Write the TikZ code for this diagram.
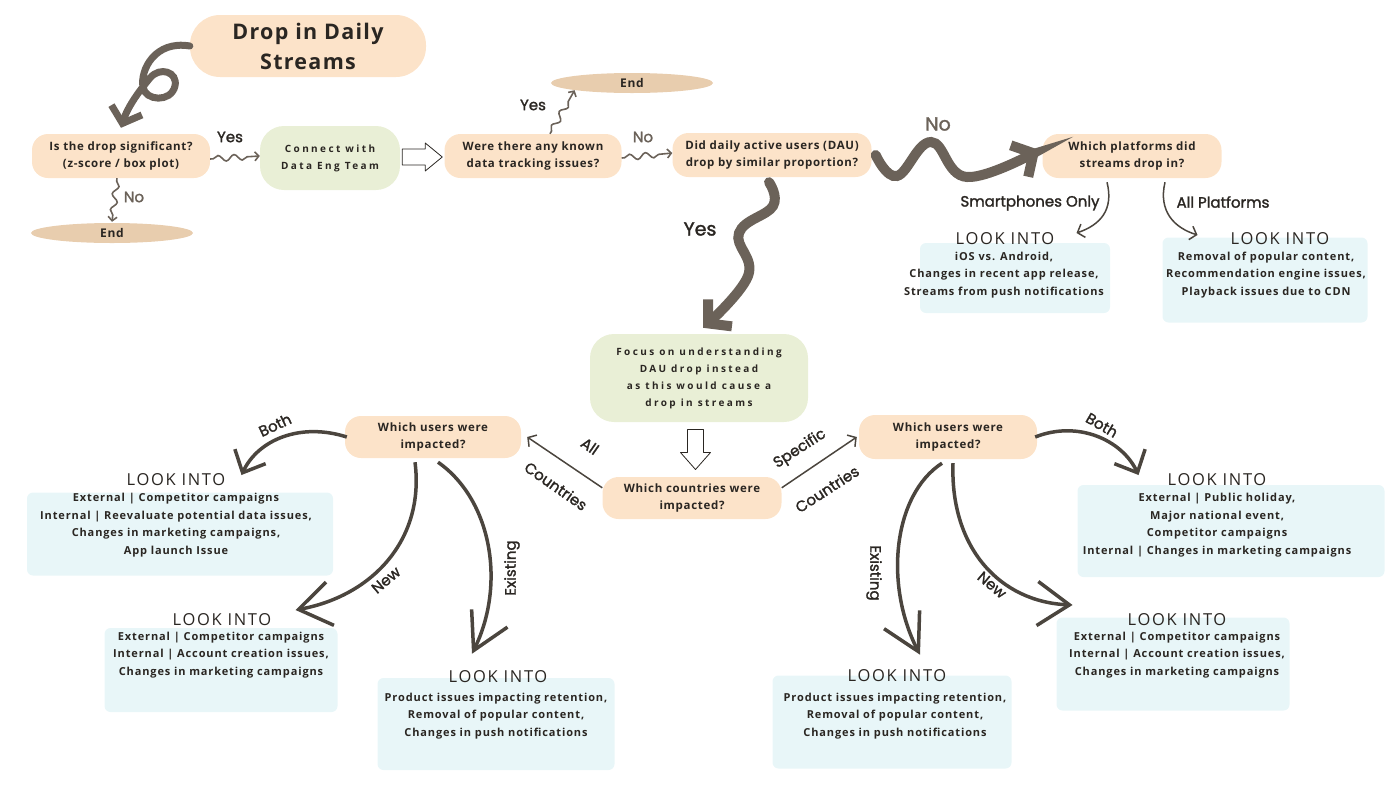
\documentclass[tikz,border=0pt]{standalone}
\usepackage{fontspec}
\setmainfont{Open Sans}
\newfontfamily\qfont[LetterSpace=6]{Open Sans}
\newfontfamily\bodyfont[LetterSpace=8]{Open Sans}
\newfontfamily\lookfont[LetterSpace=10]{Open Sans}
\newfontfamily\spacedfont[LetterSpace=24]{Open Sans}
\newfontfamily\handfont[FakeBold=1.6]{Poppins}
\usetikzlibrary{positioning, arrows.meta, shapes.geometric, decorations.pathmorphing, calc}

\definecolor{peach}{HTML}{FCE3C9}
\definecolor{sage}{HTML}{E9EFD6}
\definecolor{mist}{HTML}{E8F6F8}
\definecolor{bark}{HTML}{6B6259}
\definecolor{ink}{HTML}{2A2622}
\definecolor{sand}{HTML}{E8CDAE}

\tikzset{
  question/.style={fill=peach, rounded corners=16pt, minimum width=178pt,
    minimum height=44pt, align=center, text=ink,
    font=\qfont\bfseries\fontsize{11.5}{16.5}\selectfont},
  greenblob/.style={fill=sage, rounded corners=24pt, align=center, text=ink,
    font=\spacedfont\bfseries\fontsize{10}{17}\selectfont},
  endblob/.style={ellipse, fill=sand, minimum width=162pt, minimum height=20pt,
    inner sep=0pt, text=ink, font=\qfont\bfseries\fontsize{12}{12}\selectfont},
  lookbg/.style={fill=mist, rounded corners=6pt},
  looktitle/.style={text=ink, inner sep=0pt,
    font=\lookfont\fontsize{16.5}{17}\selectfont},
  lookbody/.style={align=center, text=ink, inner sep=0pt,
    font=\bodyfont\bfseries\fontsize{11}{17.5}\selectfont},
  hand/.style={text=ink, inner sep=0pt, font=\handfont\fontsize{15}{16}\selectfont},
  bighand/.style={hand, font=\handfont\fontsize{19}{20}\selectfont},
  hollow/.style={draw=ink, thick, fill=white, line join=round},
  bigarrow/.style={draw=bark, line width=10pt, line cap=round,
    -{Straight Barb[length=16pt, width=36pt]}},
  sixarrow/.style={draw=bark, line width=7pt, line cap=round,
    -{Straight Barb[length=14pt, width=32pt]}},
  curvearrow/.style={draw=bark!70!black, line width=3.5pt},
  thinarrow/.style={draw=bark!70!black, line width=1.5pt,
    -{Straight Barb[length=6pt, width=14pt]}},
  squiggle/.style={draw=bark, line width=1.6pt,
    -{Straight Barb[length=4pt, width=9pt]}, decorate,
    decoration={snake, amplitude=3pt, segment length=16pt,
      pre length=3pt, post length=6pt}}
}

\begin{document}
\begin{tikzpicture}[x=1pt, y=-1pt]
  \useasboundingbox (0,0) rectangle (1400,788);

  % washes behind the LOOK INTO notes
  \node[lookbg, minimum width=190pt, minimum height=70pt] (g1) at (1015,278) {};
  \node[lookbg, minimum width=205pt, minimum height=85pt] (g2) at (1265,280) {};
  \node[lookbg, minimum width=306pt, minimum height=83pt] (g3) at (180,534) {};
  \node[lookbg, minimum width=233pt, minimum height=84pt] (g4) at (221,670) {};
  \node[lookbg, minimum width=237pt, minimum height=92pt] (g5) at (496,724) {};
  \node[lookbg, minimum width=307pt, minimum height=92pt] (g6) at (1231,531) {};
  \node[lookbg, minimum width=233pt, minimum height=93pt] (g7) at (1173,664) {};
  \node[lookbg, minimum width=239pt, minimum height=93pt] (g8) at (892,722) {};

  % top row
  \node[fill=peach, rounded corners=30pt, minimum width=236pt,
    minimum height=62pt, align=center, text=ink,
    font=\qfont\bfseries\fontsize{21.5}{30}\selectfont] (title) at (308,46)
    {Drop in Daily\\Streams};

  \node[question] (q1) at (121,156) {Is the drop significant?\\(z-score / box plot)};
  \node[greenblob, minimum width=140pt, minimum height=64pt] (conn) at (330,158)
    {Connect with\\Data Eng Team};
  \node[question, minimum width=177pt] (q2) at (533,156)
    {Were there any known\\data tracking issues?};
  \node[question, minimum width=199pt] (q3) at (772,155)
    {Did daily active users (DAU)\\drop by similar proportion?};
  \node[question, minimum width=179pt] (q4) at (1132,156)
    {Which platforms did\\streams drop in?};

  \node[endblob] (end1) at (112,233) {End};
  \node[endblob] (end2) at (632,83) {End};

  % middle
  \node[greenblob, minimum width=218pt, minimum height=88pt] (focus) at (699,378)
    {Focus on understanding\\DAU drop instead\\as this would cause a\\drop in streams};
  \node[question, minimum width=179pt, minimum height=42pt] (q5) at (692,498)
    {Which countries were\\impacted?};
  \node[question, minimum width=176pt, minimum height=42pt] (q6l) at (433,437)
    {Which users were\\impacted?};
  \node[question, minimum width=178pt, minimum height=44pt] (q6r) at (948,437)
    {Which users were\\impacted?};

  % LOOK INTO notes
  \node[looktitle] (t1) at (1005,239) {LOOK INTO};
  \node[lookbody] (b1) at (1004,275)
    {iOS vs. Android,\\Changes in recent app release,\\Streams from push notifications};
  \node[looktitle] (t2) at (1280,239) {LOOK INTO};
  \node[lookbody] (b2) at (1266,275)
    {Removal of popular content,\\Recommendation engine issues,\\Playback issues due to CDN};
  \node[looktitle] (t3) at (176,480) {LOOK INTO};
  \node[lookbody] (b3) at (176,525)
    {External | Competitor campaigns\\Internal | Reevaluate potential data issues,\\Changes in marketing campaigns,\\App launch Issue};
  \node[looktitle] (t4) at (222,620) {LOOK INTO};
  \node[lookbody] (b4) at (221,655)
    {External | Competitor campaigns\\Internal | Account creation issues,\\Changes in marketing campaigns};
  \node[looktitle] (t5) at (498,677) {LOOK INTO};
  \node[lookbody] (b5) at (496,716)
    {Product issues impacting retention,\\Removal of popular content,\\Changes in push notifications};
  \node[looktitle] (t6) at (1217,480) {LOOK INTO};
  \node[lookbody] (b6) at (1217,525)
    {External | Public holiday,\\Major national event,\\Competitor campaigns\\Internal | Changes in marketing campaigns};
  \node[looktitle] (t7) at (1177,620) {LOOK INTO};
  \node[lookbody] (b7) at (1177,655)
    {External | Competitor campaigns\\Internal | Account creation issues,\\Changes in marketing campaigns};
  \node[looktitle] (t8) at (897,676) {LOOK INTO};
  \node[lookbody] (b8) at (895,716)
    {Product issues impacting retention,\\Removal of popular content,\\Changes in push notifications};

  % hollow block arrows
  \coordinate (ha1) at ($(conn.east)!0.5!(q2.west)$);
  \draw[hollow] (ha1) ++(-20,-8) -- ++(23,0) -- ++(0,-6) -- ++(17,14)
    -- ++(-17,14) -- ++(0,-6) -- ++(-23,0) -- cycle;
  \coordinate (ha2) at ($(focus.south)!0.5!(q5.north)$);
  \draw[hollow] (ha2) ++(-8,-20) -- ++(0,23) -- ++(-7,0) -- ++(15,17)
    -- ++(15,-17) -- ++(-7,0) -- ++(0,-23) -- cycle;

  % connectors
  \draw[sixarrow] (title.west) .. controls (155,40) and (140,70) .. (143,87)
    .. controls (145,101) and (171,103) .. (175,86)
    .. controls (178,72) and (160,66) .. (150,78)
    .. controls (140,90) and (128,106) .. ([yshift=6pt]q1.north);

  \draw[squiggle] ([yshift=-3pt]q1.east) -- ([yshift=2pt]conn.west);
  \draw[squiggle] ([xshift=-4pt]q1.south) -- ([yshift=1pt]end1.north);
  \draw[squiggle] ([xshift=17pt]q2.north) -- (end2.south west);
  \draw[squiggle] ([yshift=-2pt]q2.east) -- ([yshift=2pt]q3.west);

  \draw[bigarrow] plot[smooth, tension=0.7] coordinates
    {([xshift=4pt]q3.east) (897,176) (931,142) (967,177) ([xshift=-3pt, yshift=6pt]q4.west)};
  \draw[bigarrow] plot[smooth, tension=0.7] coordinates
    {([xshift=-3pt, yshift=-5pt]q3.south) (773,206) (739,233) (748,276) ([xshift=4pt, yshift=6pt]focus.north)};

  \draw[thinarrow] ([xshift=-25pt, yshift=-4pt]q4.south) .. controls (1114,210) and (1100,225)
    .. ([xshift=22pt, yshift=6pt]t1.east);
  \draw[thinarrow] ([xshift=33pt, yshift=-4pt]q4.south) .. controls (1158,212) and (1175,228)
    .. ([xshift=-33pt, yshift=4pt]t2.west);

  \draw[thinarrow] ([yshift=-11pt]q5.north west) -- ([xshift=6pt]q6l.east);
  \draw[thinarrow] ([yshift=-11pt]q5.north east) -- ([xshift=-2pt]q6r.west);

  \draw[curvearrow, -{Straight Barb[length=18pt, width=34pt]}] ([xshift=2pt]q6l.west)
    .. controls (300,422) and (258,440) .. ([xshift=16pt, yshift=5pt]t3.east);
  \draw[curvearrow, -{Straight Barb[length=32pt, width=44pt]}] ([xshift=-18pt, yshift=-4pt]q6l.south)
    .. controls (425,540) and (372,596) .. ([xshift=24pt, yshift=10pt]t4.east);
  \draw[curvearrow, -{Straight Barb[length=36pt, width=40pt]}] ([xshift=5pt, yshift=-4pt]q6l.south)
    .. controls (492,500) and (506,585) .. ([xshift=-26pt, yshift=17pt]t5.north);
  \draw[curvearrow, -{Straight Barb[length=18pt, width=34pt]}] ([xshift=-2pt]q6r.east)
    .. controls (1078,420) and (1122,440) .. ([xshift=-29pt, yshift=5pt]t6.west);
  \draw[curvearrow, -{Straight Barb[length=36pt, width=40pt]}] ([xshift=-6pt, yshift=-4pt]q6r.south)
    .. controls (893,495) and (884,585) .. ([xshift=23pt, yshift=15pt]t8.north);
  \draw[curvearrow, -{Straight Barb[length=32pt, width=44pt]}] ([xshift=5pt, yshift=-4pt]q6r.south)
    .. controls (950,548) and (1000,602) .. ([xshift=-55pt, yshift=15pt]t7.west);

  % connector labels
  \node[hand] (yes1) at (230,137) {Yes};
  \node[hand, text=bark] (no1) at (134,197) {No};
  \node[hand] (yes2) at (533,105) {Yes};
  \node[hand, text=bark] (no2) at (643,137) {No};
  \node[bighand, text=bark] (nobig) at (938,124) {No};
  \node[bighand] (yesbig) at (700,229) {Yes};
  \node[hand] (smart) at (1030,203) {Smartphones Only};
  \node[hand] (allplat) at (1223,202) {All Platforms};
  \node[hand, rotate=-35] (allc1) at (590,446) {All};
  \node[hand, rotate=-35] (allc2) at (556,486) {Countries};
  \node[hand, rotate=33] (spec1) at (800,449) {Specific};
  \node[hand, rotate=33] (spec2) at (827,489) {Countries};
  \node[hand, rotate=25] (both1) at (275,425) {Both};
  \node[hand, rotate=40] (new1) at (386,580) {New};
  \node[hand, rotate=90] (exist1) at (512,568) {Existing};
  \node[hand, rotate=-30] (both2) at (1102,425) {Both};
  \node[hand, rotate=-40] (new2) at (992,585) {New};
  \node[hand, rotate=-90] (exist2) at (874,573) {Existing};
\end{tikzpicture}
\end{document}
